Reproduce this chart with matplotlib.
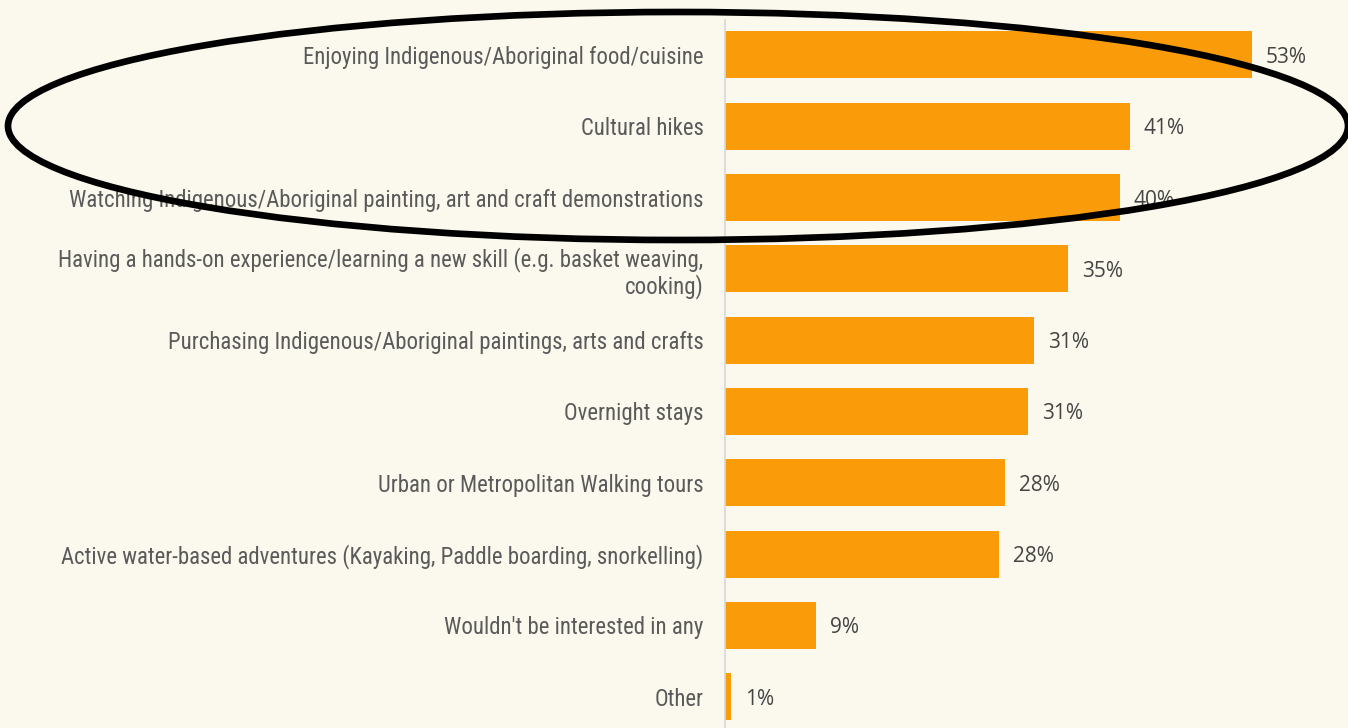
import matplotlib
matplotlib.use("Agg")
from matplotlib import pyplot as plt
from matplotlib import font_manager
from matplotlib.patches import Ellipse
from matplotlib.transforms import IdentityTransform

categories = [
    "Enjoying Indigenous/Aboriginal food/cuisine",
    "Cultural hikes",
    "Watching Indigenous/Aboriginal painting, art and craft demonstrations",
    "Having a hands-on experience/learning a new skill (e.g. basket weaving,\ncooking)",
    "Purchasing Indigenous/Aboriginal paintings, arts and crafts",
    "Overnight stays",
    "Urban or Metropolitan Walking tours",
    "Active water-based adventures (Kayaking, Paddle boarding, snorkelling)",
    "Wouldn't be interested in any",
    "Other",
]
shares = [53.1, 40.8, 39.8, 34.6, 31.2, 30.6, 28.2, 27.6, 9.2, 0.6]

BG = "#FBF8ED"
BAR = "#FA9C0A"

installed = {f.name for f in font_manager.fontManager.ttflist}
narrow = next(
    (n for n in ["Ubuntu Condensed", "Liberation Sans Narrow", "Roboto Condensed",
                 "Open Sans Condensed", "DejaVu Sans Condensed"] if n in installed),
    "DejaVu Sans",
)

fig = plt.figure(figsize=(13.48, 7.28), dpi=100, facecolor=BG)
ax = fig.add_axes([725 / 1348, 0, 595 / 1348, 708 / 728], facecolor=BG)

pos = list(range(len(categories)))
bars = ax.barh(pos, shares, height=0.66, color=BAR)

for rect, v in zip(bars, shares):
    ax.text(rect.get_width() + 1.4, rect.get_y() + rect.get_height() / 2,
            f"{v:.0f}%", va="center_baseline", ha="left", fontsize=15,
            family="Open Sans", color="#444444")

ax.set_xlim(0, 60)
ax.set_ylim(9.44, -0.49)
ax.set_yticks(pos)
ax.set_yticklabels(categories, fontsize=16.4, family=narrow, color="#5a5a5a",
                   linespacing=1.15)
ax.tick_params(axis="y", length=0, pad=15.5)
ax.tick_params(axis="x", bottom=False, labelbottom=False)
for side in ["top", "right", "bottom"]:
    ax.spines[side].set_visible(False)
ax.spines["left"].set_color("#d8d8d8")
ax.spines["left"].set_linewidth(1.2)

# hand-drawn highlight round the top three answers (pixel coordinates)
ring = Ellipse((678, 728 - 126), 1340, 228, angle=0, fill=False,
               edgecolor="black", linewidth=4.8, transform=IdentityTransform(),
               clip_on=False)
fig.add_artist(ring)

fig.savefig("out.png", dpi=100, facecolor=BG)
